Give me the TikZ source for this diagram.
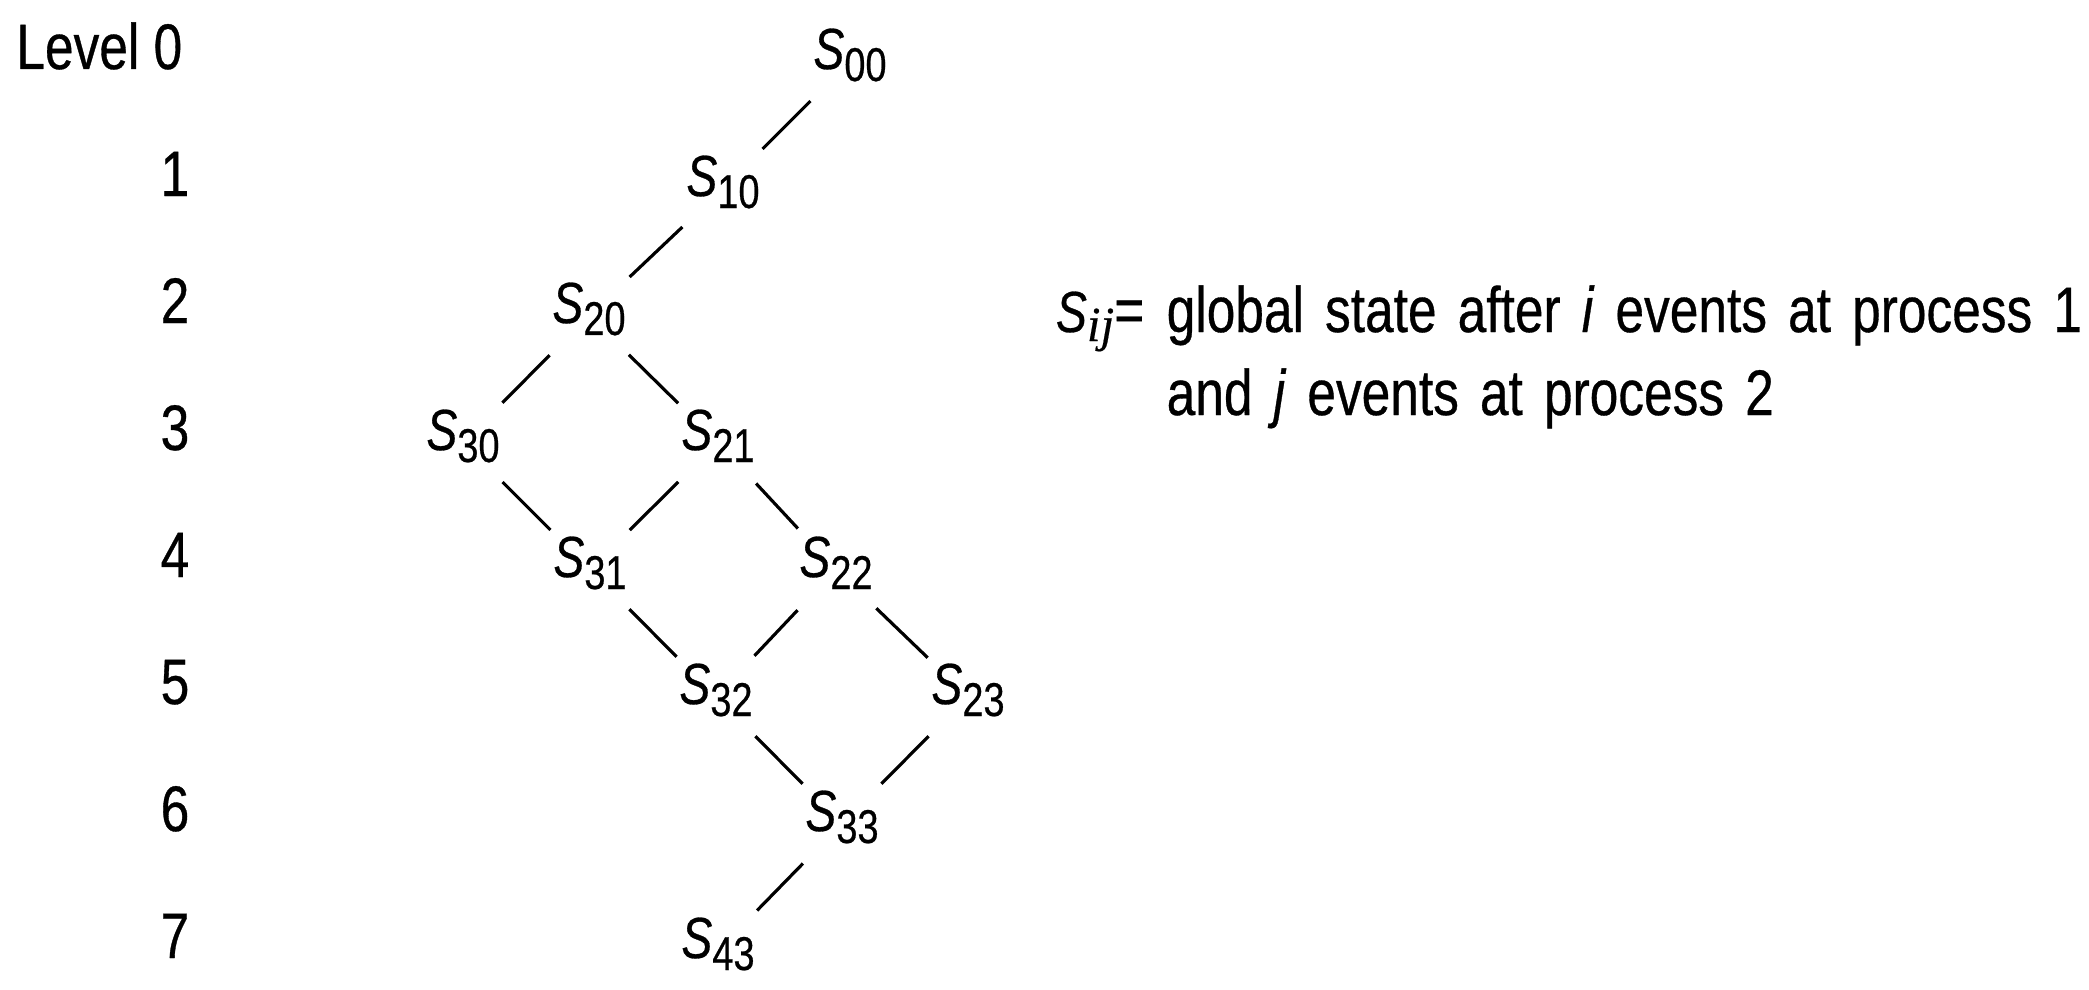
\documentclass[tikz,border=0pt]{standalone}
\usepackage{fontspec}
\setmainfont{Liberation Sans}[FakeStretch=0.8,FakeBold=0.5]
\newfontfamily\ijfont{Liberation Serif}[FakeBold=0.3]
\usetikzlibrary{positioning}
\newcommand{\Sst}[1]{\textit{S}\raisebox{-0.12cm}{\fontsize{13.5}{13.5}\selectfont #1}}
\newcommand{\wordgap}{\spaceskip=6pt\relax}
\tikzset{
  state/.style={circle,anchor=base,inner sep=0.02cm,text height=0.45cm,text depth=0.30cm,font=\fontsize{16.5}{16.5}\selectfont},
  lvl/.style={anchor=base east,inner sep=0pt,font=\fontsize{18.3}{18.3}\selectfont},
  legend/.style={anchor=base west,inner sep=0pt,font=\fontsize{18.3}{18.3}\selectfont,execute at begin node=\wordgap},
  link/.style={line width=0.9pt}
}

\begin{document}
\begin{tikzpicture}
\useasboundingbox (0,0) rectangle (20.89,-9.90);
\node[lvl] (l0) at (1.83,-0.69) {Level 0};
\node[lvl] (l1) at (1.90,-1.96) {1};
\node[lvl] (l2) at (1.90,-3.23) {2};
\node[lvl] (l3) at (1.90,-4.50) {3};
\node[lvl] (l4) at (1.90,-5.77) {4};
\node[lvl] (l5) at (1.90,-7.04) {5};
\node[lvl] (l6) at (1.90,-8.31) {6};
\node[lvl] (l7) at (1.90,-9.58) {7};
\node[state] (s00) at (8.50,-0.69) {\Sst{00}};
\node[state] (s10) at (7.23,-1.96) {\Sst{10}};
\node[state] (s20) at (5.89,-3.23) {\Sst{20}};
\node[state] (s30) at (4.63,-4.50) {\Sst{30}};
\node[state] (s21) at (7.18,-4.50) {\Sst{21}};
\node[state] (s31) at (5.90,-5.77) {\Sst{31}};
\node[state] (s22) at (8.36,-5.77) {\Sst{22}};
\node[state] (s32) at (7.16,-7.04) {\Sst{32}};
\node[state] (s23) at (9.68,-7.04) {\Sst{23}};
\node[state] (s33) at (8.42,-8.31) {\Sst{33}};
\node[state] (s43) at (7.18,-9.58) {\Sst{43}};
\draw[link] (s00) -- (s10);
\draw[link] (s10) -- (s20);
\draw[link] (s20) -- (s30);
\draw[link] (s20) -- (s21);
\draw[link] (s30) -- (s31);
\draw[link] (s21) -- (s31);
\draw[link] (s21) -- (s22);
\draw[link] (s31) -- (s32);
\draw[link] (s22) -- (s32);
\draw[link] (s22) -- (s23);
\draw[link] (s32) -- (s33);
\draw[link] (s23) -- (s33);
\draw[link] (s33) -- (s43);
\node[legend] (defn) at (11.66,-3.32) {global state after \textit{i} events at process 1};
\node[anchor=base east,inner sep=0pt,font=\fontsize{18.3}{18.3}\selectfont] (sij) at ([xshift=-0.21cm]defn.base west) {{\fontsize{16.5}{16.5}\selectfont\textit{S}}\raisebox{-0.09cm}{\ijfont\itshape\fontsize{14}{14}\selectfont ij}=};
\node[legend] (defn2) at (11.66,-4.15) {and \textit{j} events at process 2};
\end{tikzpicture}
\end{document}
